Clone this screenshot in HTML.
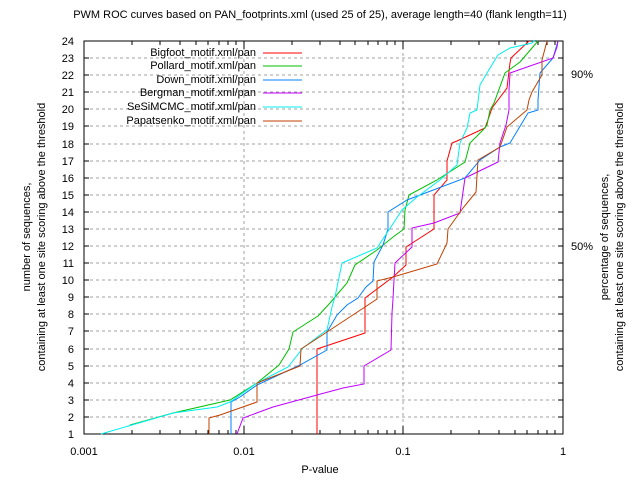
<!DOCTYPE html>
<html><head><meta charset="utf-8"><style>
html,body{margin:0;padding:0;background:#fff}
svg{display:block}
text{font-family:"Liberation Sans",sans-serif;font-size:11px;fill:#000}
</style></head><body>
<svg width="640" height="480" viewBox="0 0 640 480" xmlns="http://www.w3.org/2000/svg">
<rect width="640" height="480" fill="#fff"/>
<g stroke="#a0a0a0" stroke-width="1" stroke-dasharray="3,3" fill="none">
<path d="M84 417H563M84 400H563M84 383H563M84 366H563M84 349H563M84 331H563M84 314H563M84 297H563M84 280H563M84 263H563M84 246H563M84 229H563M84 212H563M84 195H563M84 178H563M84 161H563M84 144H563M84 126H563M84 109H563M84 92H563M84 75H563M84 58H563"/>
<path d="M244 41V434M403 41V434"/>
</g>
<g stroke="#000" stroke-width="1" fill="none">
<rect x="84" y="41" width="479" height="393"/>
<path d="M84 417h5M84 400h5M84 383h5M84 366h5M84 349h5M84 331h5M84 314h5M84 297h5M84 280h5M84 263h5M84 246h5M84 229h5M84 212h5M84 195h5M84 178h5M84 161h5M84 144h5M84 126h5M84 109h5M84 92h5M84 75h5M84 58h5"/>
<path d="M563 417h-5M563 400h-5M563 383h-5M563 366h-5M563 349h-5M563 331h-5M563 314h-5M563 297h-5M563 280h-5M563 263h-5M563 246h-5M563 229h-5M563 212h-5M563 195h-5M563 178h-5M563 161h-5M563 144h-5M563 126h-5M563 109h-5M563 92h-5M563 75h-5M563 58h-5"/>
<path d="M244 434v-8M403 434v-8M244 41v8M403 41v8"/>
<path d="M132 434v-4M160 434v-4M180 434v-4M196 434v-4M208 434v-4M219 434v-4M228 434v-4M236 434v-4M292 434v-4M320 434v-4M340 434v-4M355 434v-4M368 434v-4M378 434v-4M387 434v-4M395 434v-4M451 434v-4M479 434v-4M499 434v-4M515 434v-4M527 434v-4M538 434v-4M547 434v-4M555 434v-4"/>
<path d="M132 41v4M160 41v4M180 41v4M196 41v4M208 41v4M219 41v4M228 41v4M236 41v4M292 41v4M320 41v4M340 41v4M355 41v4M368 41v4M378 41v4M387 41v4M395 41v4M451 41v4M479 41v4M499 41v4M515 41v4M527 41v4M538 41v4M547 41v4M555 41v4"/>
</g>
<g text-anchor="end">
<text x="74" y="438">1</text><text x="74" y="421">2</text><text x="74" y="404">3</text><text x="74" y="387">4</text><text x="74" y="370">5</text><text x="74" y="353">6</text><text x="74" y="335">7</text><text x="74" y="318">8</text><text x="74" y="301">9</text><text x="74" y="284">10</text><text x="74" y="267">11</text><text x="74" y="250">12</text><text x="74" y="233">13</text><text x="74" y="216">14</text><text x="74" y="199">15</text><text x="74" y="182">16</text><text x="74" y="165">17</text><text x="74" y="148">18</text><text x="74" y="130">19</text><text x="74" y="113">20</text><text x="74" y="96">21</text><text x="74" y="79">22</text><text x="74" y="62">23</text><text x="74" y="45">24</text>
</g>
<g text-anchor="middle">
<text x="84" y="455">0.001</text><text x="244" y="455">0.01</text><text x="403" y="455">0.1</text><text x="563" y="455">1</text>
<text x="320" y="473">P-value</text>
<text x="320" y="18">PWM ROC curves based on PAN_footprints.xml (used 25 of 25), average length=40 (flank length=11)</text>
</g>
<text x="571" y="250">50%</text>
<text x="571" y="78">90%</text>
<text transform="translate(30,237) rotate(-90)" text-anchor="middle">number of sequences,</text>
<text transform="translate(45,237) rotate(-90)" text-anchor="middle">containing at least one site scoring above the threshold</text>
<text transform="translate(608,237) rotate(-90)" text-anchor="middle">percentage of sequences,</text>
<text transform="translate(623,237) rotate(-90)" text-anchor="middle">containing at least one site scoring above the threshold</text>
<g text-anchor="end">
<text x="256" y="56">Bigfoot_motif.xml/pan</text>
<text x="256" y="69">Pollard_motif.xml/pan</text>
<text x="256" y="83">Down_motif.xml/pan</text>
<text x="256" y="96">Bergman_motif.xml/pan</text>
<text x="256" y="110">SeSiMCMC_motif.xml/pan</text>
<text x="256" y="124">Papatsenko_motif.xml/pan</text>
</g>
<g fill="none" stroke-width="1">
<path stroke="#ff0000" d="M263 53H302"/>
<path stroke="#00c000" d="M263 66H302"/>
<path stroke="#0080ff" d="M263 80H302"/>
<path stroke="#c000ff" d="M263 93H302"/>
<path stroke="#00eeee" d="M263 107H302"/>
<path stroke="#c04000" d="M263 121H302"/>

<path stroke="#ff0000" d="M317 434V349L365 333V298L393 277L406 265V247L434 229V195L447 180V161L452 143L457 141L485 128L489 117L492 108L507 88L510 63L511 58L529 41"/>
<path stroke="#00c000" d="M130 425L173 413L230 400L257 383L279 365L289 349L293 332L318 316L330 303L335 297L347 283L355 265L377 250L393 237L404 229L405 210L409 195L437 180L465 162L470 143L483 130L487 125L490 110L494 103L505 73L520 62L532 48L538 41"/>
<path stroke="#0080ff" d="M231 434V402L240 397L257 385L300 365L327 350V332L337 315L347 305L358 298L366 287L373 281L374 262L383 245L388 229V212L407 200L465 178L480 160L500 147L510 143L528 113L538 110V100L540 73L553 58L558 41"/>
<path stroke="#c000ff" d="M237 434L243 418L273 407L317 395L343 388L364 384V366L391 350L392 313L393 299L394 280L395 263L412 247V228L434 223L460 213L465 178L498 162L500 143L506 125L509 110V90L510 73L553 58L557 47L558 41"/>
<path stroke="#00eeee" d="M101 434L173 413L217 407L230 402L257 383L288 367L303 348L320 335L327 330L332 307L335 297L342 263L377 248L387 233L402 210L417 197L440 180L457 165L460 143L467 128L470 113L477 110L480 85L487 73L498 55L510 48L532 43L535 40"/>
<path stroke="#c04000" d="M209 434V418L220 415L257 402V383L300 366L301 349L327 332L365 307L377 299V281L393 277L437 264L447 243L448 229L463 208L476 192L478 160L500 147L507 127L527 110L529 100L532 92L542 75V60L547 41"/>
</g>
</svg>
</body></html>
